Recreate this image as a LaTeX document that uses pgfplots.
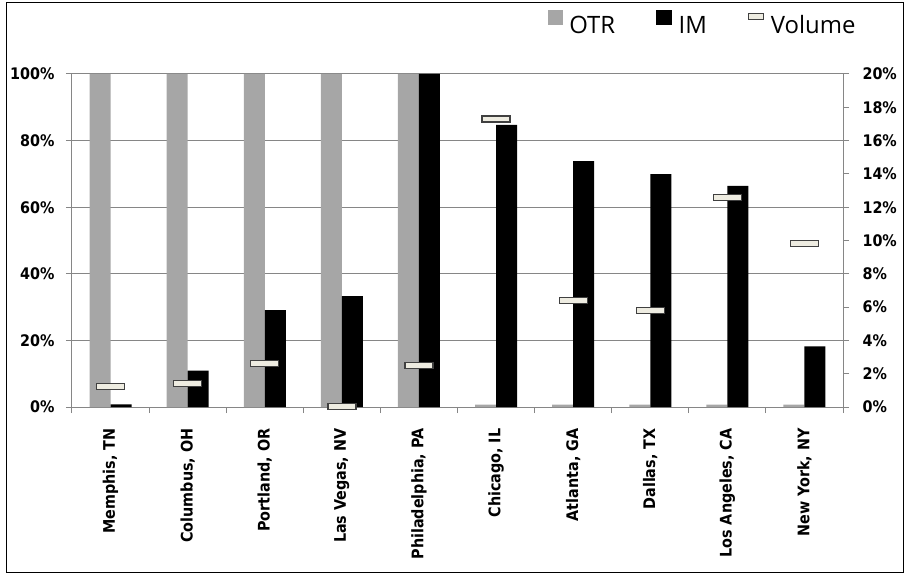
\documentclass[border=0pt]{standalone}
\usepackage{pgfplots}
\pgfplotsset{compat=1.18}
\usepackage{pgfplotstable}
\usepackage{fontspec}
\setmainfont{DejaVu Sans}
\newfontfamily\condfont{DejaVu Sans Condensed}
\newfontfamily\legfont{Open Sans}

\definecolor{otr}{RGB}{166,166,166}
\definecolor{axgray}{RGB}{134,134,134}
\definecolor{volfill}{RGB}{238,236,225}
\definecolor{voledge}{RGB}{64,64,64}

% flat box used for the volume points
\pgfdeclareplotmark{volbar}{%
  \pgfpathrectangle{\pgfpoint{-14bp}{-3bp}}{\pgfpoint{28bp}{6bp}}%
  \pgfusepathqfillstroke}

\pgfplotstableread{
x otr im vol
0 100 0.8 1.24
1 100 10.9 1.42
2 100 29.1 2.62
3 100 33.3 0.05
4 100 100 2.5
5 0.7 84.7 17.3
6 0.7 73.8 6.4
7 0.7 69.9 5.8
8 0.7 66.4 12.6
9 0.7 18.2 9.8
}\data

\newcommand\tickfnt{\condfont\bfseries\fontsize{16}{19}\selectfont}

\begin{document}
\begin{tikzpicture}
\path[use as bounding box] (-72bp,-167bp) rectangle (835bp,407bp);
\draw[black, line width=1bp] (-65bp,-165bp) rectangle (831bp,404bp);

\begin{axis}[
  scale only axis, width=771bp, height=333bp,
  xmin=-0.5, xmax=9.5, ymin=0, ymax=100,
  ybar=0pt, bar width=21bp,
  axis x line*=bottom, axis y line*=left,
  axis line style={axgray, line width=1bp, -},
  xtick={-0.5,0.5,...,9.5}, x tick label as interval,
  xticklabels={{Memphis, TN},{Columbus, OH},{Portland, OR},{Las Vegas, NV},{Philadelphia, PA},
    {Chicago, IL},{Atlanta, GA},{Dallas, TX},{Los Angeles, CA},{New York, NY}},
  xticklabel style={rotate=90, anchor=east, font=\tickfnt},
  xticklabel shift=12bp,
  ytick={0,20,...,100},
  yticklabels={0\%,20\%,40\%,60\%,80\%,100\%},
  yticklabel style={font=\tickfnt},
  yticklabel shift=8bp,
  tick align=outside, major tick length=6bp,
  tick style={axgray, line width=1bp},
  ymajorgrids, grid style={axgray, line width=1bp},
]
\addplot[fill=otr, draw=none] table[x=x, y=otr] {\data};
\addplot[fill=black, draw=none] table[x=x, y=im] {\data};
\end{axis}

\begin{axis}[
  scale only axis, width=771bp, height=333bp,
  xmin=-0.5, xmax=9.5, ymin=0, ymax=20,
  axis x line=none, axis y line*=right,
  axis line style={axgray, line width=1bp, -},
  ytick={0,2,...,20},
  yticklabels={0\%,2\%,4\%,6\%,8\%,10\%,12\%,14\%,16\%,18\%,20\%},
  yticklabel style={font=\tickfnt},
  yticklabel shift=10bp,
  tick align=outside, major tick length=6bp,
  tick style={axgray, line width=1bp},
  clip=false,
  legend columns=3,
  legend style={at={(0.617,1.15)}, anchor=west, draw=none, fill=none,
    font=\legfont\fontsize{24}{28}\selectfont, inner sep=0pt,
    nodes={inner sep=3bp},
    /tikz/every odd column/.append style={column sep=4bp},
    /tikz/every even column/.append style={column sep=38bp}},
]
\addlegendimage{legend image code/.code={\fill[otr] (0bp,1bp) rectangle (14bp,15bp);}}
\addlegendimage{legend image code/.code={\fill[black] (0bp,1bp) rectangle (15bp,15bp);}}
\addplot[only marks, mark=volbar,
  mark options={fill=volfill, draw=voledge, line width=1.3bp},
  legend image code/.code={\draw[fill=volfill, draw=voledge, line width=1bp] (0bp,6bp) rectangle (15bp,12bp);}]
  table[x=x, y=vol] {\data};
\legend{OTR, IM, Volume}
\end{axis}
\end{tikzpicture}
\end{document}
